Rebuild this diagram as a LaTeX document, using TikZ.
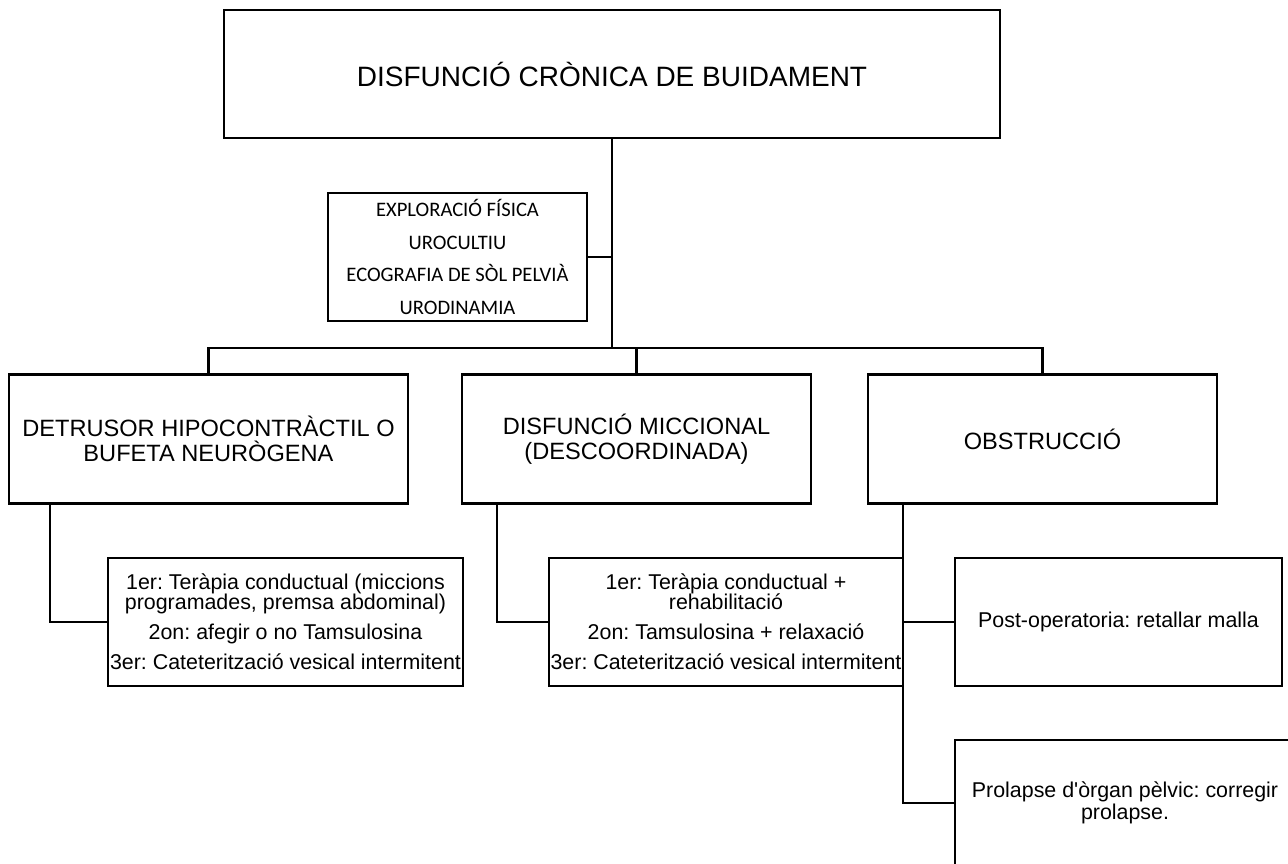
\documentclass[tikz,border=0pt]{standalone}
\usepackage{fontspec}
\setmainfont{Liberation Sans}
\newfontfamily\examfont{Carlito}
\frenchspacing
\newcommand\tightlines{\lineskiplimit=-20pt\relax}

\begin{document}
\begin{tikzpicture}[x=0.5pt,y=-0.5pt,
    link/.style={line width=1.2pt},
    box/.style={draw,line width=1.2pt,align=center,inner sep=0pt,outer sep=0pt},
    title/.style={box,minimum width=388pt,minimum height=64pt,font=\fontsize{14}{17}\selectfont},
    exam/.style={box,minimum width=129.5pt,minimum height=64pt,font=\examfont\fontsize{10.3}{16.3}\selectfont},
    cat/.style={box,minimum width=174.5pt,minimum height=64.5pt,font=\fontsize{11.8}{12.5}\selectfont},
    treat/.style={box,minimum width=177pt,minimum height=64pt,font=\fontsize{10.7}{10}\selectfont\tightlines}]
  \useasboundingbox (0,0) rectangle (1288,863);
  \clip (0,0) rectangle (1288,863);
  \node[title] (root) at (612,74) {DISFUNCIÓ CRÒNICA DE BUIDAMENT};
  \node[exam] (tests) at (457.5,257) {EXPLORACIÓ FÍSICA\\UROCULTIU\\ECOGRAFIA DE SÒL PELVIÀ\\URODINAMIA};
  \node[cat,minimum width=199.5pt] (detrusor) at (208.5,439) {DETRUSOR HIPOCONTRÀCTIL O\\BUFETA NEURÒGENA};
  \node[cat] (miccional) at (636.5,439) {DISFUNCIÓ MICCIONAL\\(DESCOORDINADA)};
  \node[cat] (obstr) at (1042.5,439) {OBSTRUCCIÓ};
  \node[treat,minimum width=177.5pt] (tractA) at (285.5,622) {1er: Teràpia conductual (miccions\\programades, premsa abdominal)\\[5pt]2on: afegir o no Tamsulosina\\[5pt]3er: Cateterització vesical intermitent};
  \node[treat] (tractB) at (726,622) {1er: Teràpia conductual +\\rehabilitació\\[5pt]2on: Tamsulosina + relaxació\\[5pt]3er: Cateterització vesical intermitent};
  \node[treat,minimum width=163.5pt] (postop) at (1118.5,622) {Post-operatoria: retallar malla};
  \node[treat,minimum width=170pt,minimum height=63pt,font=\fontsize{10.7}{11}\selectfont\tightlines] (prolapse) at (1125,803) {Prolapse d\textquotesingle òrgan pèlvic: corregir\\prolapse.};
  % tree links
  \coordinate (bar) at (612,348);
  \draw[link] (root.south) -- (root.south |- bar);
  \draw[link] (tests.east) -- (tests.east -| root.south);
  \draw[link] (detrusor.north) |- (obstr.north |- bar) -- (obstr.north);
  \draw[link] (miccional.north) -- (miccional.north |- bar);
  \draw[link] ([xshift=20.5pt]detrusor.south west) |- (tractA.west);
  \draw[link] ([xshift=17.5pt]miccional.south west) |- (tractB.west);
  \coordinate (obsdrop) at ([xshift=17.5pt]obstr.south west);
  \draw[link] (obsdrop) |- (prolapse.west);
  \draw[link] (postop.west) -- (postop.west -| obsdrop);
\end{tikzpicture}
\end{document}
